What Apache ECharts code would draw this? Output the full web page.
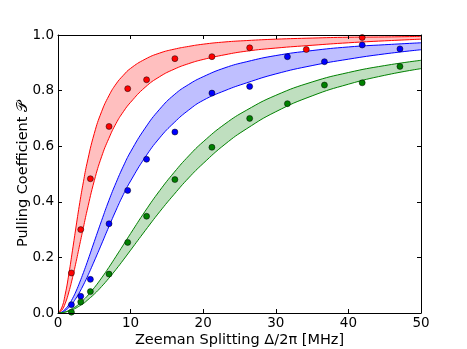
<!DOCTYPE html>
<html>
<head>
<meta charset="utf-8">
<script src="https://cdn.jsdelivr.net/npm/echarts@6/dist/echarts.min.js"></script>
<style>
  html, body { margin: 0; padding: 0; background: #fff; }
  #main { width: 467px; height: 349px; }
</style>
</head>
<body>
<div id="main"></div>
<script>
// sample positions along the fitted bands (MHz)
const xs = [0, 0.5, 1, 1.5, 2, 2.5, 3, 3.5, 4, 5, 6, 7, 8, 9, 10, 12, 14, 16, 18, 20, 23, 26, 30, 35, 40, 45, 50];

const redUpper = [0, 0.018, 0.068, 0.141, 0.226, 0.313, 0.397, 0.472, 0.539, 0.646, 0.724, 0.781, 0.824, 0.855, 0.88, 0.913, 0.935, 0.949, 0.959, 0.967, 0.975, 0.98, 0.985, 0.989, 0.992, 0.993, 0.995];
const redLower = [0, 0.009, 0.035, 0.076, 0.127, 0.185, 0.247, 0.308, 0.368, 0.476, 0.562, 0.628, 0.682, 0.724, 0.758, 0.812, 0.85, 0.877, 0.897, 0.912, 0.929, 0.942, 0.953, 0.963, 0.972, 0.979, 0.985];
const blueUpper = [0, 0.003, 0.014, 0.03, 0.052, 0.079, 0.111, 0.145, 0.181, 0.257, 0.332, 0.404, 0.469, 0.528, 0.58, 0.665, 0.733, 0.785, 0.822, 0.85, 0.882, 0.904, 0.926, 0.944, 0.957, 0.965, 0.972];
const blueLower = [0, 0.002, 0.009, 0.02, 0.035, 0.054, 0.076, 0.101, 0.128, 0.187, 0.248, 0.31, 0.37, 0.426, 0.475, 0.56, 0.63, 0.685, 0.73, 0.765, 0.8, 0.828, 0.86, 0.89, 0.913, 0.932, 0.947];
const greenUpper = [0, 0.001, 0.004, 0.009, 0.016, 0.024, 0.035, 0.047, 0.06, 0.091, 0.126, 0.164, 0.204, 0.245, 0.286, 0.366, 0.44, 0.506, 0.565, 0.616, 0.68, 0.73, 0.783, 0.831, 0.865, 0.89, 0.909];
const greenLower = [0, 0.001, 0.003, 0.007, 0.012, 0.018, 0.026, 0.034, 0.045, 0.068, 0.095, 0.125, 0.157, 0.191, 0.226, 0.296, 0.364, 0.427, 0.486, 0.538, 0.607, 0.663, 0.724, 0.781, 0.823, 0.855, 0.879];

// measured points
const redX = [1.85, 3.13, 4.46, 7.03, 9.6, 12.2, 16.1, 21.2, 26.4, 34.2, 41.9];
const redY = [0.144, 0.30, 0.483, 0.671, 0.807, 0.839, 0.915, 0.922, 0.954, 0.948, 0.991];
const blueX = [1.85, 3.13, 4.46, 7.03, 9.6, 12.2, 16.1, 21.2, 26.4, 31.6, 36.7, 41.9, 47.1];
const blueY = [0.03, 0.06, 0.121, 0.321, 0.441, 0.553, 0.651, 0.791, 0.815, 0.922, 0.904, 0.964, 0.95];
const greenX = [1.85, 3.13, 4.46, 7.03, 9.6, 12.2, 16.1, 21.2, 26.4, 31.6, 36.7, 41.9, 47.1];
const greenY = [0.003, 0.04, 0.077, 0.14, 0.254, 0.348, 0.48, 0.596, 0.70, 0.753, 0.82, 0.828, 0.887];

const xTicks = [0, 10, 20, 30, 40, 50];
const yTicks = ["0.0", "0.2", "0.4", "0.6", "0.8", "1.0"];

const font = "DejaVu Sans";
const chart = echarts.init(document.getElementById("main"));

// bands sit one above another (red > blue > green), so each band is the
// upper curve filled down to 0, then the lower curve filled white down to 0
function curve(color, fill, vals) {
  return {
    type: "line", data: xs.map((x, i) => [x, vals[i]]),
    smooth: 0.5, symbol: "none", silent: true,
    lineStyle: { color: color, width: 1 },
    areaStyle: { color: fill, opacity: 1, origin: "start" }, z: 2
  };
}

function dots(color, xv, yv) {
  return {
    type: "scatter", data: xv.map((x, i) => [x, yv[i]]),
    symbolSize: 6, z: 5,
    itemStyle: { color: color, borderColor: "#000", borderWidth: 0.5, opacity: 1 }
  };
}

const tickStyle = { show: true, inside: true, length: 4, lineStyle: { color: "#000", width: 1 } };
const lineStyle = { show: true, onZero: false, lineStyle: { color: "#000", width: 1 } };
const labelFont = { color: "#000", fontFamily: font, fontSize: 14.5 };

const option = {
  animation: false,
  grid: { left: 58, right: 46, top: 35, bottom: 36, outerBoundsMode: "none" },
  xAxis: [
    {
      type: "value", min: 0, max: 50, interval: 10, z: 10,
      axisLine: lineStyle, axisTick: tickStyle, splitLine: { show: false },
      axisLabel: { color: "#000", fontFamily: font, fontSize: 13.5, margin: 3,
        formatter: v => xTicks.includes(v) ? String(v) : "" },
      name: "Zeeman Splitting \u0394/2\u03c0 [MHz]", nameLocation: "middle", nameGap: 20,
      nameMoveOverlap: false, nameTextStyle: labelFont
    },
    {
      type: "value", position: "top", min: 0, max: 50, interval: 10, z: 10,
      axisLine: lineStyle, axisTick: tickStyle, axisLabel: { show: false }, splitLine: { show: false }
    }
  ],
  yAxis: [
    {
      type: "value", min: 0, max: 1, interval: 0.2, z: 10,
      axisLine: lineStyle, axisTick: tickStyle, splitLine: { show: false },
      axisLabel: { color: "#000", fontFamily: font, fontSize: 13.5, margin: 4,
        formatter: v => yTicks[Math.round(v / 0.2)] },
      name: "Pulling Coefficient \ud835\udcab", nameLocation: "middle", nameGap: 27,
      nameMoveOverlap: false, nameTextStyle: labelFont
    },
    {
      type: "value", position: "right", min: 0, max: 1, interval: 0.2, z: 10,
      axisLine: lineStyle, axisTick: tickStyle, axisLabel: { show: false }, splitLine: { show: false }
    }
  ],
  series: [
    curve("#ff0000", "#ffbfbf", redUpper),
    curve("#ff0000", "#ffffff", redLower),
    curve("#0000ff", "#bfbfff", blueUpper),
    curve("#0000ff", "#ffffff", blueLower),
    curve("#008000", "#bfdfbf", greenUpper),
    curve("#008000", "#ffffff", greenLower),
    dots("#ff0000", redX, redY),
    dots("#0000ff", blueX, blueY),
    dots("#008000", greenX, greenY)
  ]
};

chart.setOption(option);
</script>
</body>
</html>
